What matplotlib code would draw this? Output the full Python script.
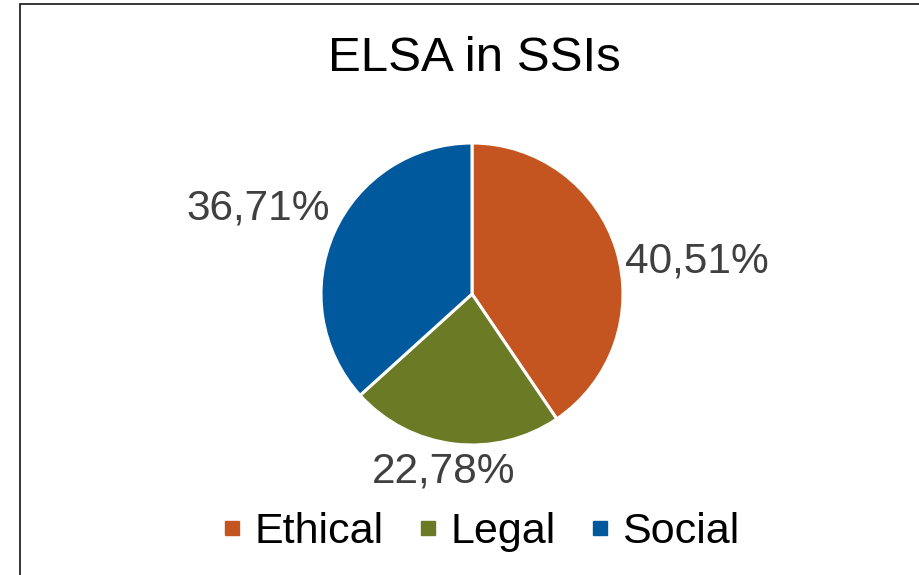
import matplotlib.pyplot as plt
from matplotlib.patches import Rectangle
from matplotlib.lines import Line2D

plt.rcParams['font.family'] = ['Liberation Sans', 'DejaVu Sans']

categories = ["Ethical", "Legal", "Social"]
shares = [40.51, 22.78, 36.71]
colors = ["#C55520", "#6B7A25", "#00599C"]
label_pos = [(697, 314), (444, 103), (258, 367)]

fig = plt.figure(figsize=(9.2, 5.75), dpi=100)
ax = fig.add_axes([0, 0, 1, 1])

# pie drawn in pixel-like coordinates so the layout is easy to place
ax.pie(shares, colors=colors, startangle=90, counterclock=False,
       center=(472, 281), radius=151,
       wedgeprops=dict(edgecolor="white", linewidth=2.2))
ax.set_xlim(0, 920)
ax.set_ylim(0, 575)
ax.set_aspect("equal")
ax.axis("off")

for val, (x, y) in zip(shares, label_pos):
    ax.text(x, y, ("%.2f%%" % val).replace(".", ","), fontsize=30.5,
            color="#404040", ha="center", va="center")

ax.text(474, 517, "ELSA in SSIs", fontsize=35.5, color="black",
        ha="center", va="center")

# chart frame (right and bottom edges fall outside the image)
fig.patches.append(Rectangle((20 / 920, -0.1), 1.2, 1.1 - 4.5 / 575,
                             transform=fig.transFigure, fill=False,
                             edgecolor="#262626", linewidth=1.3))

handles = [Line2D([], [], marker="s", linestyle="none", markersize=10,
                  markerfacecolor=c, markeredgecolor=c) for c in colors]
fig.legend(handles, categories, loc="center", ncol=3, frameon=False,
           bbox_to_anchor=(481 / 920, 1 - 532 / 575), fontsize=31,
           handlelength=0.45, handletextpad=0.3, columnspacing=0.8,
           borderpad=0, borderaxespad=0)

fig.savefig("out.png", dpi=100)
